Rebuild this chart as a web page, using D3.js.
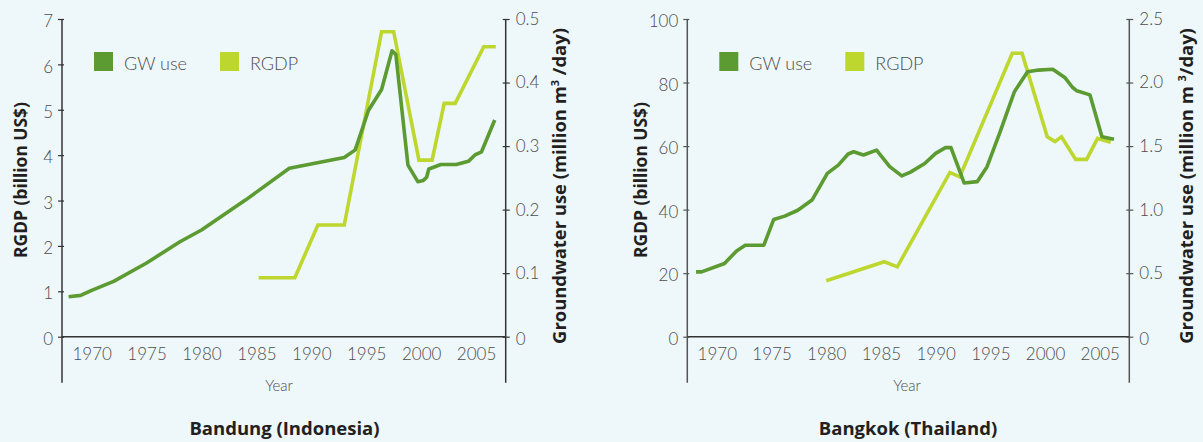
<!DOCTYPE html>
<html>
<head>
<meta charset="utf-8">
<script src="https://cdn.jsdelivr.net/npm/d3@7"></script>
<style>
  html, body { margin: 0; padding: 0; background: #eef7f9; }
  svg { display: block; }
</style>
</head>
<body>
<svg id="chart" width="1203" height="442"></svg>
<script>
// ---------- DATA ----------
const yearTicks = [1970, 1975, 1980, 1985, 1990, 1995, 2000, 2005];
const seriesNames = ["GW use", "RGDP"];

// Bandung (Indonesia)
const bandungRgdpTicks = [0, 1, 2, 3, 4, 5, 6, 7];
const bandungGwTicks = [0, 0.1, 0.2, 0.3, 0.4, 0.5];
const bandungGwYears = [1967.9, 1969, 1970, 1972, 1975, 1978, 1980, 1984, 1988, 1993, 1994, 1995.2, 1996.4, 1997.35, 1997.7, 1998.8, 1999.7, 2000.2, 2000.5, 2000.7, 2001.8, 2003.2, 2004.3, 2004.9, 2005.5, 2006.7];
const bandungGwUse = [0.063, 0.065, 0.073, 0.087, 0.116, 0.149, 0.168, 0.215, 0.265, 0.282, 0.294, 0.356, 0.389, 0.450, 0.444, 0.270, 0.244, 0.246, 0.251, 0.264, 0.271, 0.271, 0.276, 0.286, 0.291, 0.341];
const bandungRgdpYears = [1985.2, 1988.5, 1990.6, 1993.0, 1996.4, 1997.5, 1999.8, 2001.0, 2002.1, 2003.1, 2005.7, 2006.8];
const bandungRgdp = [1.30, 1.30, 2.46, 2.46, 6.72, 6.72, 3.89, 3.89, 5.14, 5.14, 6.39, 6.39];

// Bangkok (Thailand)
const bangkokRgdpTicks = [0, 20, 40, 60, 80, 100];
const bangkokGwTicks = [0, 0.5, 1.0, 1.5, 2.0, 2.5];
const bangkokGwYears = [1968.1, 1968.6, 1970.7, 1971.8, 1972.6, 1974.3, 1975.2, 1976.2, 1977.4, 1978.7, 1980.1, 1981.1, 1982.0, 1982.5, 1983.4, 1984.6, 1985.8, 1986.9, 1987.7, 1989.0, 1990.0, 1990.9, 1991.4, 1992.6, 1993.8, 1994.7, 1995.9, 1997.2, 1998.4, 1999.4, 2000.7, 2001.8, 2002.5, 2002.9, 2004.1, 2005.2, 2006.3];
const bangkokGwUse = [0.51, 0.51, 0.576, 0.675, 0.72, 0.72, 0.923, 0.949, 0.995, 1.075, 1.285, 1.35, 1.438, 1.455, 1.43, 1.468, 1.338, 1.265, 1.295, 1.363, 1.443, 1.488, 1.488, 1.21, 1.22, 1.338, 1.613, 1.928, 2.085, 2.098, 2.105, 2.04, 1.963, 1.935, 1.903, 1.573, 1.553];
const bangkokRgdpYears = [1980.0, 1985.3, 1986.5, 1991.3, 1992.2, 1997.0, 1997.9, 2000.2, 2000.9, 2001.5, 2002.8, 2003.8, 2004.8, 2006.0];
const bangkokRgdp = [17.6, 23.6, 22.0, 51.7, 50.3, 89.2, 89.2, 62.9, 61.4, 62.9, 55.8, 55.8, 62.4, 61.2];

// ---------- STYLE ----------
const COL_GW = "#5b9b31";
const COL_RGDP = "#bed72f";
const TICK_FONT = "Lato, 'Open Sans', sans-serif";
const TITLE_FONT = "'Open Sans', 'Noto Sans', sans-serif";

const svg = d3.select("#chart");
svg.append("rect").attr("width", 1203).attr("height", 442).attr("fill", "#eef7f9");

function panel(cfg) {
  const g = svg.append("g");
  const x = d3.scaleLinear().domain([1967.3, 2007.7]).range([cfg.left, cfg.right]);
  const yL = d3.scaleLinear().domain([0, d3.max(cfg.leftTicks)]).range([336.7, 19]);
  const yR = d3.scaleLinear().domain([0, d3.max(cfg.rightTicks)]).range([336.7, 19]);
  const bottom = yL(0) + 46;

  // axis lines
  g.append("line").attr("x1", cfg.left).attr("x2", cfg.left).attr("y1", yL.range()[1]).attr("y2", bottom)
    .attr("stroke", cfg.vAxisColor).attr("stroke-width", 1.5);
  g.append("line").attr("x1", cfg.right).attr("x2", cfg.right).attr("y1", yR.range()[1]).attr("y2", bottom)
    .attr("stroke", cfg.vAxisColor).attr("stroke-width", 1.5);
  g.append("line").attr("x1", cfg.left).attr("x2", cfg.right).attr("y1", yL(0)).attr("y2", yL(0))
    .attr("stroke", "#333").attr("stroke-width", 1.5);

  // left axis
  const axL = g.append("g").attr("transform", `translate(${cfg.left},0)`)
    .call(d3.axisLeft(yL).tickValues(cfg.leftTicks).tickSizeInner(4).tickSizeOuter(0).tickPadding(5).tickFormat(d3.format("d")));
  axL.select(".domain").remove();
  axL.selectAll(".tick line").attr("x1", 2).attr("stroke", cfg.vAxisColor).attr("stroke-width", 1.2);
  axL.selectAll(".tick text").attr("font-family", TICK_FONT).attr("font-weight", 300).attr("font-size", 17).attr("fill", "#4d4d4d").attr("dy", "0.45em");

  // right axis
  const axR = g.append("g").attr("transform", `translate(${cfg.right},0)`)
    .call(d3.axisRight(yR).tickValues(cfg.rightTicks).tickSizeInner(4).tickSizeOuter(0).tickPadding(6).tickFormat(cfg.rightFormat));
  axR.select(".domain").remove();
  axR.selectAll(".tick line").attr("x1", -3).attr("stroke", cfg.vAxisColor).attr("stroke-width", 1.2);
  axR.selectAll(".tick text").attr("font-family", TICK_FONT).attr("font-weight", 300).attr("font-size", 17).attr("fill", "#4d4d4d")
    .attr("dy", d => d === 0 ? "0.45em" : "0.32em");

  // x axis labels
  const axX = g.append("g").attr("transform", `translate(0,${yL(0)})`)
    .call(d3.axisBottom(x).tickValues(yearTicks).tickSize(0).tickPadding(11).tickFormat(d3.format("d")));
  axX.select(".domain").remove();
  axX.selectAll(".tick text").attr("font-family", TICK_FONT).attr("font-weight", 300).attr("font-size", 17).attr("fill", "#4d4d4d");

  // lines
  const lineL = d3.line().x(d => x(d[0])).y(d => yL(d[1]));
  const lineR = d3.line().x(d => x(d[0])).y(d => yR(d[1]));
  g.append("path").datum(d3.zip(cfg.rgdpYears, cfg.rgdp)).attr("d", lineL)
    .attr("fill", "none").attr("stroke", COL_RGDP).attr("stroke-width", 3.6).attr("stroke-linejoin", "miter");
  g.append("path").datum(d3.zip(cfg.gwYears, cfg.gw)).attr("d", lineR)
    .attr("fill", "none").attr("stroke", COL_GW).attr("stroke-width", 3.6).attr("stroke-linejoin", "round");

  // legend
  const legend = g.append("g");
  const legX = [cfg.left + 32, cfg.left + 158];
  seriesNames.forEach((name, i) => {
    legend.append("rect").attr("x", legX[i]).attr("y", 52).attr("width", 19).attr("height", 19)
      .attr("fill", i === 0 ? COL_GW : COL_RGDP);
    legend.append("text").attr("x", legX[i] + 30).attr("y", 70).text(name)
      .attr("font-family", TICK_FONT).attr("font-weight", 300).attr("font-size", 18).attr("fill", "#4d4d4d");
  });

  // axis titles
  g.append("text").attr("transform", `translate(${cfg.leftTitleX},180) rotate(-90)`).attr("text-anchor", "middle")
    .attr("font-family", TITLE_FONT).attr("font-weight", 700).attr("font-size", 17.4).attr("fill", "#231f20")
    .text("RGDP (billion US$)");
  const rt = g.append("text").attr("transform", `translate(${cfg.rightTitleX},186) rotate(-90)`).attr("text-anchor", "middle")
    .attr("font-family", TITLE_FONT).attr("font-weight", 700).attr("font-size", 18.4).attr("fill", "#231f20");
  rt.append("tspan").text(cfg.unitPre);
  rt.append("tspan").attr("dy", -7).attr("font-size", 11).text("3");
  rt.append("tspan").attr("dy", 7).text(cfg.unitPost);

  g.append("text").attr("x", cfg.yearX).attr("y", 391).attr("text-anchor", "middle")
    .attr("font-family", TICK_FONT).attr("font-weight", 300).attr("font-size", 15).attr("fill", "#4d4d4d").text("Year");
  g.append("text").attr("x", cfg.titleX).attr("y", 435).attr("text-anchor", "middle")
    .attr("font-family", TITLE_FONT).attr("font-weight", 700).attr("font-size", 18.5).attr("fill", "#231f20").text(cfg.title);
}

panel({
  left: 62, right: 505.7,
  leftTicks: bandungRgdpTicks, rightTicks: bandungGwTicks,
  rightFormat: d => d === 0 ? "0" : d3.format(".1f")(d),
  gwYears: bandungGwYears, gw: bandungGwUse,
  rgdpYears: bandungRgdpYears, rgdp: bandungRgdp,
  vAxisColor: "#333",
  leftTitleX: 27, rightTitleX: 566,
  unitPre: "Groundwater use (million m", unitPost: " /day)",
  yearX: 279, titleX: 284.5, title: "Bandung (Indonesia)"
});

panel({
  left: 687.3, right: 1129.3,
  leftTicks: bangkokRgdpTicks, rightTicks: bangkokGwTicks,
  rightFormat: d => d === 0 ? "0" : d3.format(".1f")(d),
  gwYears: bangkokGwYears, gw: bangkokGwUse,
  rgdpYears: bangkokRgdpYears, rgdp: bangkokRgdp,
  vAxisColor: "#555",
  leftTitleX: 647, rightTitleX: 1193,
  unitPre: "Groundwater use (million m ", unitPost: "/day)",
  yearX: 907, titleX: 908, title: "Bangkok (Thailand)"
});
</script>
</body>
</html>
